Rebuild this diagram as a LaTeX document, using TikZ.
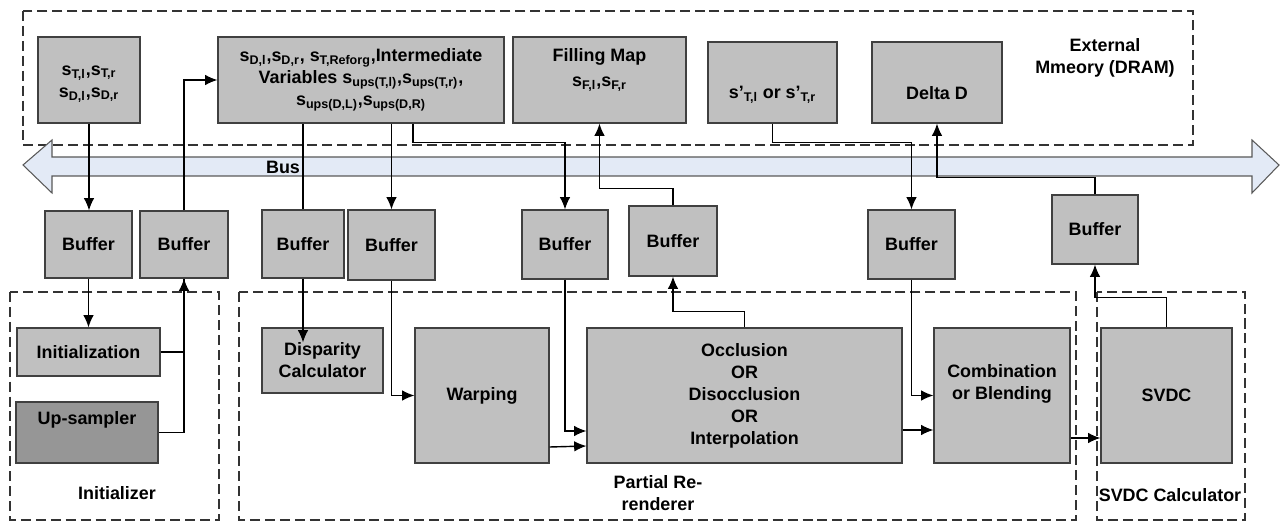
\documentclass[tikz,border=0pt]{standalone}
\usepackage{fontspec}
\setmainfont{Liberation Sans}
\usetikzlibrary{arrows.meta,calc}
\definecolor{boxgray}{HTML}{C0C0C0}
\definecolor{darkbox}{HTML}{969696}
\definecolor{busblue}{HTML}{E3EAF6}
\definecolor{edgegray}{HTML}{404040}
\newcommand{\sbs}[1]{\textsubscript{#1}}
\begin{document}
\begin{tikzpicture}[x=0.02cm,y=-0.02cm,
		sz/.style 2 args={minimum width=#1*0.02cm,minimum height=#2*0.02cm},
		blk/.style={draw=edgegray,fill=boxgray,line width=0.6pt,inner sep=1pt,align=center,font=\bfseries\fontsize{10.2}{12.5}\selectfont},
		txt/.style={align=center,inner sep=0pt,font=\bfseries\fontsize{10.2}{12.5}\selectfont},
		area/.style={draw=black!80,dash pattern=on 5.7pt off 2.8pt,line width=0.75pt},
		arr/.style={-{Latex[length=7pt,width=6pt]},line width=0.8pt},
		wire/.style={line width=0.8pt}]
		\useasboundingbox (0,0) rectangle (1288,523);
		% dashed regions
		\draw[area] (23,11) rectangle (1193,145);
		\draw[area] (10,292) rectangle (219,520);
		\draw[area] (239,292) rectangle (1076,520);
		\draw[area] (1097,292) rectangle (1245,520);
		\node[txt] (extLbl) at (1105,58) {External\\Mmeory (DRAM)};
		\node[txt] (initLbl) at (117,493) {Initializer};
		\node[txt] (partLbl) at (658,493) {Partial Re-\\renderer};
		\node[txt] (svdcLbl) at (1170,495) {SVDC Calculator};
		% bus
		\draw[draw=gray!70!black,fill=busblue,line width=0.6pt] (23,165)--(52,140)--(52,157)--(1252,157)--(1252,140)--(1279,165)--(1252,193)--(1252,176)--(52,176)--(52,193)--cycle;
		\node[txt] (bus) at (283,167) {Bus};
		% memory
		\node[blk,sz={102}{86}] (mST) at (89,80) {};
		\node[txt] (mSTtxt) at (89,84) {s\sbs{T,l},s\sbs{T,r}\\s\sbs{D,l},s\sbs{D,r}};
		\node[blk,sz={286}{86}] (mInt) at (361,80) {s\sbs{D,l},s\sbs{D,r}, s\sbs{T,Reforg},Intermediate\\Variables s\sbs{ups(T,l)},s\sbs{ups(T,r)},\\s\sbs{ups(D,L)},s\sbs{ups(D,R)}};
		\node[blk,sz={173}{86}] (mFill) at (599.5,80) {};
		\node[txt] (mFilltxt) at (599.5,70) {Filling Map\\[2pt]s\sbs{F,l},s\sbs{F,r}};
		\node[blk,sz={129}{81}] (mSp) at (772.5,82.5) {};
		\node[txt] (mSptxt) at (772.5,95) {s'\sbs{T,l} or s'\sbs{T,r}};
		\node[blk,sz={130}{81}] (mDelta) at (937,82.5) {};
		\node[txt] (mDeltatxt) at (937,93) {Delta D};
		% buffers
		\node[blk,sz={87}{67}] (b1) at (88.5,244.5) {Buffer};
		\node[blk,sz={88}{67}] (b2) at (184,244.5) {Buffer};
		\node[blk,sz={82}{68}] (b3) at (303,244) {Buffer};
		\node[blk,sz={87}{70}] (b4) at (391.5,245) {Buffer};
		\node[blk,sz={86}{69}] (b5) at (565,244.5) {Buffer};
		\node[blk,sz={88}{70}] (b6) at (673,241) {Buffer};
		\node[blk,sz={87}{69}] (b7) at (911.5,244.5) {Buffer};
		\node[blk,sz={86}{69}] (b8) at (1095,229.5) {Buffer};
		% processing blocks
		\node[blk,sz={143}{48}] (init) at (88.5,352) {Initialization};
		\node[blk,fill=darkbox,sz={142}{61}] (ups) at (87,432.5) {};
		\node[txt] (upstxt) at (87,420) {Up-sampler};
		\node[blk,sz={121}{65}] (disp) at (322.5,360.5) {Disparity\\Calculator};
		\node[blk,sz={134}{135}] (warp) at (482,395.5) {Warping};
		\node[blk,sz={315}{135}] (occl) at (744.5,395.5) {Occlusion\\OR\\Disocclusion\\OR\\Interpolation};
		\node[blk,sz={136}{135}] (comb) at (1002,395.5) {};
		\node[txt] (combtxt) at (1002,384) {Combination\\or Blending};
		\node[blk,sz={131}{135}] (svdc) at (1166.5,395.5) {SVDC};
		% connectors
		\draw[arr] (mST.south) -- (mST.south |- b1.north);
		\draw[arr] (b1.south) -- (b1.south |- init.north);
		\draw[wire] (init.east) -| (b2.south);
		\draw[arr] (ups.east) -| (b2.south);
		\draw[arr] (b2.north) |- (mInt.west);
		\draw[wire] (b3.north) -- (b3.north |- mInt.south);
		\draw[arr] (b3.south) -- ($(b3.south |- disp.north)+(0,15)$);
		\draw[arr] (b4.north |- mInt.south) -- (b4.north);
		\draw[arr] (b4.south) |- (warp.west);
		\draw[arr] ($(mInt.south)+(52,0)$) -- ++(0,19) -| (b5.north);
		\draw[arr] (b5.south) |- ($(occl.west)+(0,35.5)$);
		\draw[arr] ($(warp.east)+(0,51.5)$) -- ($(occl.west)+(0,50.5)$);
		\draw[arr] (occl.north) -- ++(0,-16) -| (b6.south);
		\draw[arr] (b6.north) -- ++(0,-17) -| (mFill.south);
		\draw[arr] (mSp.south) -- ++(0,19) -| (b7.north);
		\draw[arr] (b7.south) |- (comb.west);
		\draw[arr] ($(occl.east)+(0,34.5)$) -- ($(comb.west)+(0,34.5)$);
		\draw[arr] ($(comb.east)+(0,42.5)$) -- ($(svdc.west)+(0,42.5)$);
		\draw[arr] (svdc.north) -- ++(0,-30) -| (b8.south);
		\draw[arr] (b8.north) -- ++(0,-17) -| (mDelta.south);
	\end{tikzpicture}
\end{document}
